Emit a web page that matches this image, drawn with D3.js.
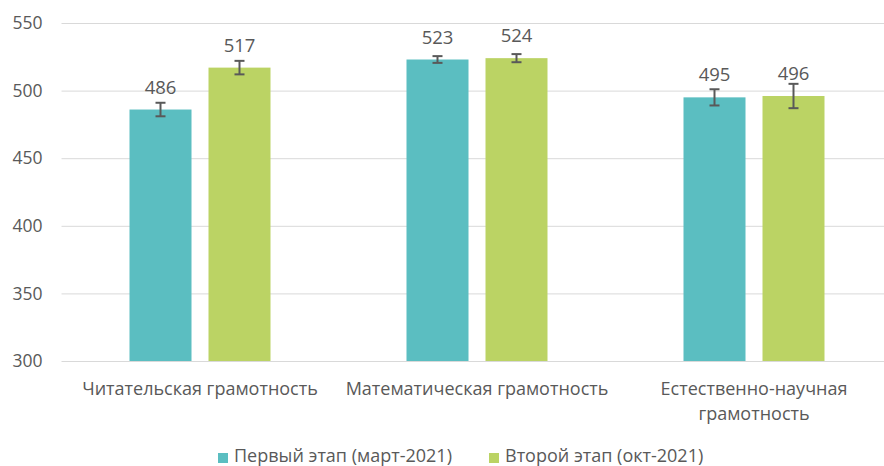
<!DOCTYPE html>
<html>
<head>
<meta charset="utf-8">
<script src="https://cdn.jsdelivr.net/npm/d3@7"></script>
<style>
  html, body { margin: 0; padding: 0; background: #fff; }
  svg { display: block; font-family: "Open Sans", "Noto Sans", sans-serif; }
</style>
</head>
<body>
<svg id="chart" width="884" height="466"></svg>
<script>
// Categories (each entry is a list of text lines)
const categories = [
  ["Читательская грамотность"],
  ["Математическая грамотность"],
  ["Естественно-научная", "грамотность"]
];
const seriesNames = ["Первый этап (март-2021)", "Второй этап (окт-2021)"];
const seriesColors = ["#5bbec1", "#bbd364"];
// Mean scores per stage
const stage1 = [486, 523, 495];
const stage2 = [517, 524, 496];
// Error bar half-widths (score points)
const stage1Err = [5, 2.5, 6];
const stage2Err = [5, 3, 9];
const yTicks = [300, 350, 400, 450, 500, 550];

const svg = d3.select("#chart");
const plot = { left: 61.5, right: 892.5, top: 23, bottom: 361 };

const y = d3.scaleLinear().domain([300, 550]).range([plot.bottom, plot.top]);

const catKeys = categories.map((c, i) => i);
const x0 = d3.scaleBand()
  .domain(catKeys)
  .range([plot.left, plot.right])
  .paddingInner(136 / 277)
  .paddingOuter(68 / 277);

const x1 = d3.scaleBand()
  .domain([0, 1])
  .range([0, x0.bandwidth()])
  .paddingInner(17 / 79);

// Gridlines + tick labels
const yAxis = d3.axisLeft(y)
  .tickValues(yTicks)
  .tickSize(-(plot.right - plot.left))
  .tickPadding(19);

const gy = svg.append("g")
  .attr("transform", `translate(${plot.left},0)`)
  .call(yAxis);
gy.select(".domain").remove();
gy.selectAll(".tick line").attr("stroke", "#d9d9d9").attr("stroke-width", 1);
gy.selectAll(".tick text")
  .attr("fill", "#595959")
  .style("font-size", "17.5px")
  .style("font-family", "'Open Sans', sans-serif");

// Bars
const rows = [];
catKeys.forEach(i => {
  rows.push({ cat: i, s: 0, v: stage1[i], e: stage1Err[i] });
  rows.push({ cat: i, s: 1, v: stage2[i], e: stage2Err[i] });
});
const cx = d => x0(d.cat) + x1(d.s) + x1.bandwidth() / 2;

const g = svg.append("g");
g.selectAll("rect.bar")
  .data(rows)
  .join("rect")
  .attr("class", "bar")
  .attr("x", d => x0(d.cat) + x1(d.s))
  .attr("width", x1.bandwidth())
  .attr("y", d => y(d.v))
  .attr("height", d => y(300) - y(d.v))
  .attr("fill", d => seriesColors[d.s]);

// Error bars
const capHalf = 5;
const eb = g.selectAll("g.err")
  .data(rows)
  .join("g")
  .attr("class", "err")
  .attr("stroke", "#595959")
  .attr("stroke-width", 2);
eb.append("line")
  .attr("x1", cx).attr("x2", cx)
  .attr("y1", d => y(d.v - d.e))
  .attr("y2", d => y(d.v + d.e));
eb.append("line")
  .attr("x1", d => cx(d) - capHalf)
  .attr("x2", d => cx(d) + capHalf)
  .attr("y1", d => y(d.v + d.e))
  .attr("y2", d => y(d.v + d.e));
eb.append("line")
  .attr("x1", d => cx(d) - capHalf)
  .attr("x2", d => cx(d) + capHalf)
  .attr("y1", d => y(d.v - d.e))
  .attr("y2", d => y(d.v - d.e));

// Value labels
g.selectAll("text.val")
  .data(rows)
  .join("text")
  .attr("class", "val")
  .attr("x", cx)
  .attr("y", d => y(d.v) - 16)
  .attr("text-anchor", "middle")
  .attr("fill", "#595959")
  .style("font-size", "18.5px")
  .text(d => d.v);

// Category labels
const cl = svg.append("g").selectAll("text.cat")
  .data(categories)
  .join("text")
  .attr("class", "cat")
  .attr("text-anchor", "middle")
  .attr("fill", "#595959")
  .style("font-size", "18px")
  .attr("x", (d, i) => x0(i) + x0.bandwidth() / 2)
  .attr("y", 395);
cl.selectAll("tspan")
  .data(d => d)
  .join("tspan")
  .attr("x", function () { return d3.select(this.parentNode).attr("x"); })
  .attr("dy", (d, i) => i === 0 ? 0 : 25)
  .text(d => d);

// Legend
const legendX = [218, 489];
const lg = svg.append("g").selectAll("g.leg")
  .data(seriesNames)
  .join("g")
  .attr("class", "leg")
  .attr("transform", (d, i) => `translate(${legendX[i]},0)`);
lg.append("rect")
  .attr("x", 0).attr("y", 453)
  .attr("width", 10).attr("height", 10)
  .attr("fill", (d, i) => seriesColors[i]);
lg.append("text")
  .attr("x", 16).attr("y", 462)
  .attr("fill", "#595959")
  .style("font-size", "18px")
  .text(d => d);
</script>
</body>
</html>
